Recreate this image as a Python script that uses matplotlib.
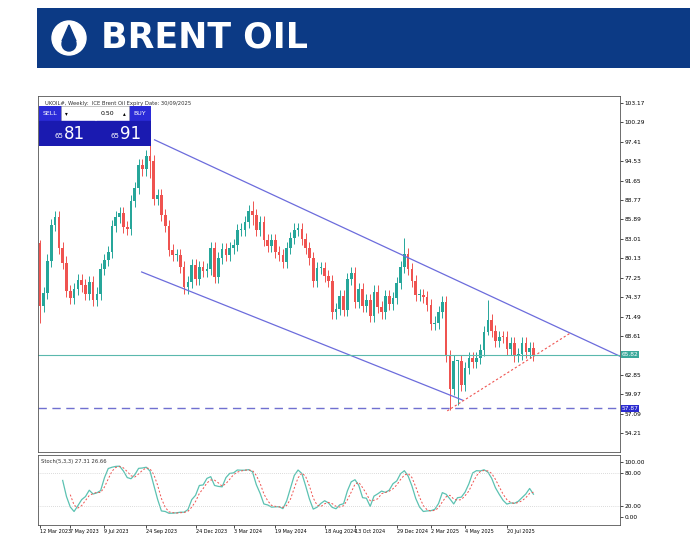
import numpy as np
import matplotlib.pyplot as plt
from matplotlib.patches import Rectangle, Circle, Polygon

# weekly closes, UKOIL (Sep 2025 contract), from 12 Mar 2023
closes = [73.0, 75.0, 79.8, 85.1, 86.3, 81.7, 79.5, 75.3, 74.2, 75.6,
          76.9, 76.1, 74.8, 76.6, 73.9, 74.9, 78.5, 79.9, 81.1, 84.9,
          86.2, 86.8, 84.8, 84.5, 88.6, 90.6, 93.9, 93.3, 95.3, 94.6,
          88.9, 89.5, 86.5, 84.9, 81.4, 80.6, 80.6, 78.9, 75.8, 76.6,
          79.1, 77.0, 78.8, 78.3, 78.6, 81.6, 77.3, 80.2, 81.5, 80.6,
          81.6, 82.1, 84.3, 84.4, 85.5, 87.2, 86.5, 84.3, 85.5, 82.8,
          82.0, 82.9, 81.1, 80.6, 79.6, 81.6, 83.2, 84.4, 84.5, 83.0,
          81.6, 80.1, 76.8, 78.7, 78.7, 77.5, 76.8, 72.1, 72.6, 74.5,
          72.4, 77.1, 78.0, 73.6, 75.6, 73.1, 73.9, 71.6, 75.2, 72.9,
          72.1, 74.5, 73.4, 74.2, 76.5, 78.8, 80.8, 78.5, 76.8, 74.7,
          74.7, 74.4, 73.2, 70.4, 70.6, 72.2, 73.6, 65.6, 60.8, 64.9,
          64.9, 61.3, 63.9, 65.4, 64.8, 65.3, 66.5, 69.2, 71.0, 69.3,
          67.8, 68.5, 68.4, 66.7, 67.6, 65.6, 65.9, 67.5, 66.2, 66.8,
          65.8]
open0 = 82.4
# notable wicks {week: (high, low)}
wicks = {29: (97.4, 92.0), 108: (66.5, 57.6), 110: (65.0, 58.4), 118: (74.0, 68.8),
         96: (83.2, 78.0), 56: (88.6, 85.0), 0: (82.8, 70.6)}

date_labels = ["12 Mar 2023", "7 May 2023", "9 Jul 2023", "24 Sep 2023", "24 Dec 2023",
               "3 Mar 2024", "19 May 2024", "18 Aug 2024", "13 Oct 2024", "29 Dec 2024",
               "2 Mar 2025", "4 May 2025", "20 Jul 2025"]
date_weeks = [0, 8, 17, 28, 41, 51, 62, 75, 83, 94, 103, 112, 123]

price_ticks = [103.17, 100.29, 97.41, 94.53, 91.65, 88.77, 85.89, 83.01, 80.13,
               77.25, 74.37, 71.49, 68.61, 62.85, 59.97, 57.09, 54.21]
current_price = 65.82
support_price = 57.87

upper_line = [(30.2, 97.7), (152.8, 65.6)]
lower_line = [(26.8, 78.1), (111.3, 59.1)]
trend_line = [(107.3, 57.5), (139.6, 69.0)]

closes = np.array(closes)
opens = np.concatenate([[open0], closes[:-1]])
n = len(closes)
highs = np.maximum(opens, closes) + 0.9
lows = np.minimum(opens, closes) - 0.9
for k, (h, l) in wicks.items():
    highs[k], lows[k] = h, l

# stochastic 5,3,3
raw = np.full(n, np.nan)
for i in range(4, n):
    hh, ll = highs[i-4:i+1].max(), lows[i-4:i+1].min()
    raw[i] = (closes[i] - ll) / (hh - ll) * 100
def sma(a, p):
    out = np.full(len(a), np.nan)
    for i in range(p-1, len(a)):
        out[i] = np.mean(a[i-p+1:i+1])
    return out
k_line = sma(raw, 3)
d_line = sma(k_line, 3)

up_c, dn_c = '#26a69a', '#ef5350'
line_c = '#6c6cdc'

fig = plt.figure(figsize=(6.9, 5.41), dpi=100)
fig.patch.set_facecolor('white')

# header banner
hdr = fig.add_axes([37/690, 1-68/541, 653/690, 60/541])
hdr.set_xlim(0, 653); hdr.set_ylim(0, 60); hdr.axis('off')
hdr.add_patch(Rectangle((0, 0), 653, 60, color='#0c3a85'))
hdr.add_patch(Circle((32, 30), 17, color='white'))
hdr.add_patch(Polygon([(32, 43), (25, 27), (39, 27)], color='#0c3a85'))
hdr.add_patch(Circle((32, 24), 7, color='#0c3a85'))
hdr.text(64, 30, "BRENT OIL", color='white', fontsize=25, fontweight='bold',
         va='center', ha='left', family='DejaVu Sans')

x = np.arange(n)
ax = fig.add_axes([38/690, 1-452/541, 582/690, 356/541])
ax.set_xlim(-0.5, 152.8)
ax.set_ylim(51.4, 104.2)
for i in range(n):
    c = up_c if closes[i] >= opens[i] else dn_c
    ax.vlines(x[i], lows[i], highs[i], color=c, lw=0.7)
    b = min(opens[i], closes[i]); h = max(abs(closes[i]-opens[i]), 0.15)
    ax.add_patch(Rectangle((x[i]-0.35, b), 0.7, h, color=c, lw=0))
for ln in (upper_line, lower_line):
    ax.plot([ln[0][0], ln[1][0]], [ln[0][1], ln[1][1]], color=line_c, lw=0.9)
ax.plot([trend_line[0][0], trend_line[1][0]], [trend_line[0][1], trend_line[1][1]],
        color=dn_c, lw=0.8, ls=(0, (2, 2)))
ax.axhline(current_price, color='#5ab8ad', lw=0.8)
ax.axhline(support_price, color='#7070d0', lw=1.0, ls=(0, (6, 4)))
ax.yaxis.tick_right()
ax.set_yticks(price_ticks)
ax.set_yticklabels([f"{p:.2f}" for p in price_ticks], fontsize=4.2)
ax.tick_params(axis='y', length=2, pad=1, width=0.5)
ax.set_xticks([])
for s in ax.spines.values():
    s.set_linewidth(0.6); s.set_color('#555555')
ax.text(1.003, (current_price-51.4)/(104.2-51.4), f"{current_price:.2f}", transform=ax.transAxes,
        fontsize=4.2, color='white', va='center', ha='left',
        bbox=dict(boxstyle='square,pad=0.15', fc='#3aa89a', ec='none'))
ax.text(1.003, (support_price-51.4)/(104.2-51.4), f"{support_price:.2f}", transform=ax.transAxes,
        fontsize=4.2, color='white', va='center', ha='left',
        bbox=dict(boxstyle='square,pad=0.15', fc='#2a2ad0', ec='none'))
ax.text(0.012, 0.985, "UKOIL#, Weekly:  ICE Brent Oil Expiry Date: 30/09/2025",
        transform=ax.transAxes, fontsize=3.8, va='top', color='#333333')

# trade panel
tp = fig.add_axes([39/690, 1-146/541, 112/690, 40/541])
tp.set_xlim(0, 112); tp.set_ylim(0, 40); tp.axis('off')
tp.add_patch(Rectangle((0, 25), 22, 15, color='#2b2bd8'))
tp.add_patch(Rectangle((90, 25), 22, 15, color='#2b2bd8'))
tp.add_patch(Rectangle((22, 25), 68, 15, fc='white', ec='#999999', lw=0.4))
tp.add_patch(Rectangle((0, 0), 55.5, 25, color='#1a1ab0'))
tp.add_patch(Rectangle((56.5, 0), 55.5, 25, color='#1a1ab0'))
tp.text(11, 32.5, "SELL", color='white', fontsize=4.5, ha='center', va='center')
tp.text(101, 32.5, "BUY", color='white', fontsize=4.5, ha='center', va='center')
tp.text(75, 32.5, "0.50", fontsize=4.5, ha='right', va='center')
tp.text(27, 32.5, "▾", fontsize=4, ha='center', va='center')
tp.text(85, 32.5, "▴", fontsize=4, ha='center', va='center')
tp.text(24, 10, "65", color='white', fontsize=5, ha='right', va='center')
tp.text(25, 12, "81", color='white', fontsize=12, ha='left', va='center')
tp.text(80, 10, "65", color='white', fontsize=5, ha='right', va='center')
tp.text(81, 12, "91", color='white', fontsize=12, ha='left', va='center')

# stochastic panel
sx = fig.add_axes([38/690, 1-525/541, 582/690, 70/541])
sx.set_xlim(-0.5, 152.8)
sx.set_ylim(-14.5, 112.7)
sx.plot(x, k_line, color='#5cc2b2', lw=0.9)
sx.plot(x, d_line, color=dn_c, lw=0.7, ls=(0, (2, 2)))
for lv in (80, 20):
    sx.axhline(lv, color='#bbbbbb', lw=0.5, ls=(0, (1, 2)))
sx.yaxis.tick_right()
sx.set_yticks([100, 80, 20, 0])
sx.set_yticklabels(["100.00", "80.00", "20.00", "0.00"], fontsize=4.2)
sx.tick_params(axis='y', length=2, pad=1, width=0.5)
sx.set_xticks(date_weeks)
sx.set_xticklabels(date_labels, fontsize=3.5, ha='left')
sx.tick_params(axis='x', length=2, pad=1, width=0.5)
for s in sx.spines.values():
    s.set_linewidth(0.6); s.set_color('#555555')
sx.text(0.005, 0.95, "Stoch(5,3,3) 27.31 26.66", transform=sx.transAxes,
        fontsize=3.8, va='top', color='#333333')

fig.savefig('out.png', dpi=100)
